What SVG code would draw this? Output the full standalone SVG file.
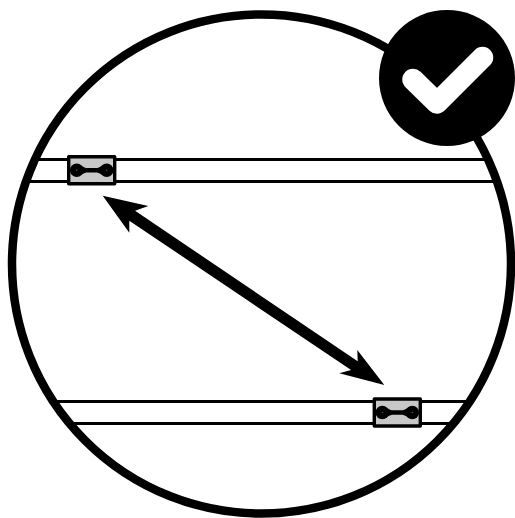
<svg xmlns="http://www.w3.org/2000/svg" width="515" height="518" viewBox="0 0 515 518">
<style>
.rail{stroke:#000;stroke-width:3;fill:none}
.body{fill:#c8c8c8;stroke:#000;stroke-width:3.4;stroke-linejoin:round}
</style>
<defs>
<g id="slider">
<rect class="body" x="0" y="0" width="46" height="27"/>
<path d="M10 8C14 9 15 11.300 19 11.300H27C31 11.300 32 9 36 8V19C32 18 31 15.700 27 15.700H19C15 15.700 14 18 10 19Z" fill="#000"/>
<circle cx="8" cy="13.500" r="6.800" fill="#000"/>
<circle cx="38" cy="13.500" r="6.800" fill="#000"/>
<circle cx="8" cy="13.500" r="0.600" fill="#777"/>
<circle cx="38" cy="13.500" r="0.600" fill="#777"/>
</g>
</defs>
<rect width="515" height="518" fill="#fff"/>
<g id="frame"><circle cx="261.500" cy="264" r="249.500" fill="#fff" stroke="#000" stroke-width="8.500"/></g>
<g id="connectors">
<path class="rail" d="M34 159.500H488M25 181.500H497M53 401.500H469M69 423.500H453"/>
<path id="double-arrow" fill="#000" d="M102.700 195.700L148.300 206L135.100 210.800L357.700 361.200L357.300 350L384.300 385L339.300 373.300L351.100 370L129.300 220.700L129.300 232.700Z"/>
</g>
<g id="slider-top"><use href="#slider" x="68.700" y="156.700"/></g>
<g id="slider-bottom"><use href="#slider" x="374.300" y="399"/></g>
<g id="check-badge">
<circle cx="447" cy="78" r="68" fill="#000"/>
<path d="M413 79.500L437 103L482.500 57.500" fill="none" stroke="#fff" stroke-width="21.500" stroke-linecap="round" stroke-linejoin="round"/>
</g>
</svg>
